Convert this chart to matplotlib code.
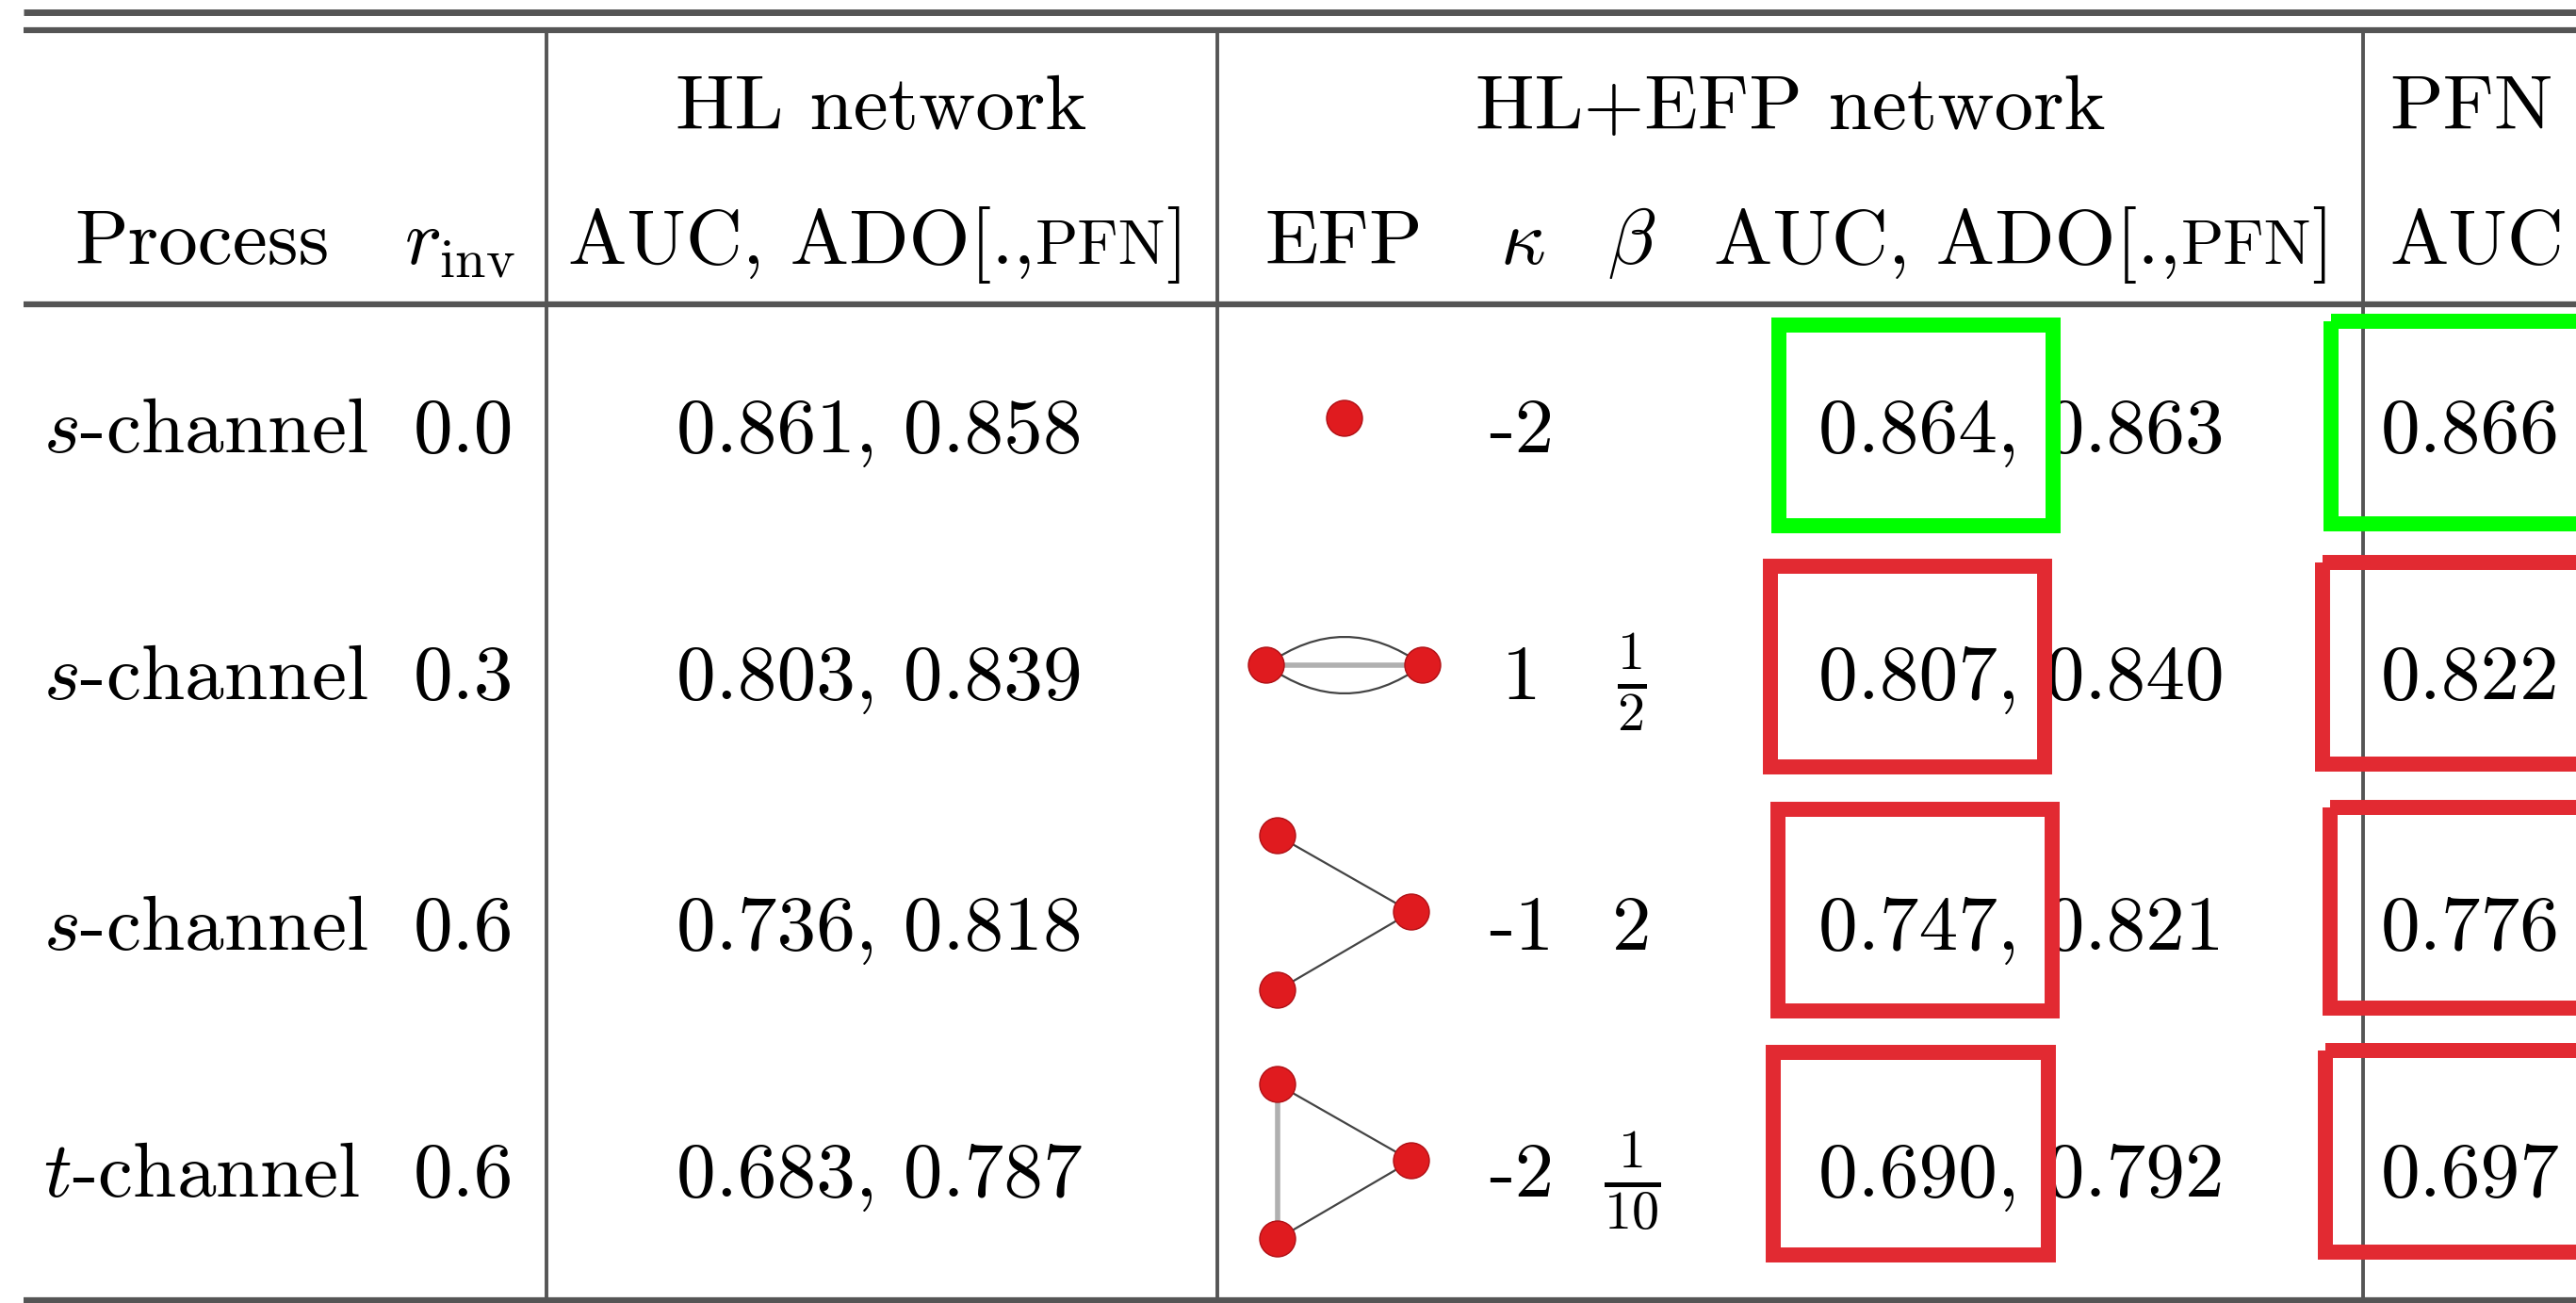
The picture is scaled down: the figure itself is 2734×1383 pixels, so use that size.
"""
Tabela de resultados: AUC e ADO para redes HL, HL+EFP e PFN,
com grafos EFP desenhados e caixas de destaque.
"""

import matplotlib.pyplot as plt
from matplotlib.patches import Rectangle, Circle, PathPatch
from matplotlib.path import Path

plt.rcParams["font.family"] = "cmr10"
plt.rcParams["mathtext.fontset"] = "cm"
plt.rcParams["axes.unicode_minus"] = False

# dados da tabela
processo = ["s", "s", "s", "t"]
r_inv = ["0.0", "0.3", "0.6", "0.6"]
hl_auc = [0.861, 0.803, 0.736, 0.683]
hl_ado = [0.858, 0.839, 0.818, 0.787]
kappa = ["-2", "1", "-1", "-2"]
beta = ["", r"$\frac{1}{2}$", "2", r"$\frac{1}{10}$"]
efp_auc = [0.864, 0.807, 0.747, 0.690]
efp_ado = [0.863, 0.840, 0.821, 0.792]
pfn_auc = [0.866, 0.822, 0.776, 0.697]
destaque = ["verde", "vermelho", "vermelho", "vermelho"]

# grafos EFP: nós (dx, dy) relativos ao centro e arestas (i, j, tipo)
efp_nos = [
    [(0, -8)],
    [(-83, 0), (83, 0)],
    [(-71, -81), (71, 0), (-71, 83)],
    [(-71, -81), (71, 0), (-71, 83)],
]
efp_arestas = [
    [],
    [(0, 1, "grossa"), (0, 1, "arco+"), (0, 1, "arco-")],
    [(0, 1, "fina"), (1, 2, "fina")],
    [(0, 2, "grossa"), (0, 1, "fina"), (1, 2, "fina")],
]

W, H = 2734, 1383
FS = 60
cores = {"verde": "#00ff00", "vermelho": "#e22a32"}
cinza = "#555555"

fig = plt.figure(figsize=(W / 100, H / 100), dpi=100)
ax = fig.add_axes([0, 0, 1, 1])
ax.set_xlim(0, W)
ax.set_ylim(H, 0)
ax.axis("off")
renderer = fig.canvas.get_renderer()

# linhas horizontais e verticais
for y, lw in [(13, 5), (32, 4.5), (323, 4.5), (1380, 4.5)]:
    ax.plot([25, W], [y, y], color=cinza, lw=lw, solid_capstyle="butt")
for x in [580, 1292, 2508]:
    ax.plot([x, x], [32, H], color=cinza, lw=2.8, solid_capstyle="butt")


def texto_pfn(xc, y):
    """'AUC, ADO[.,PFN]' com PFN em versalete, centrado em xc"""
    partes = [("AUC, ADO[.,", FS), ("PFN", FS * 0.8), ("]", FS)]
    objs = [ax.text(0, y, t, fontsize=f, va="baseline") for t, f in partes]
    larguras = [o.get_window_extent(renderer).width for o in objs]
    x = xc - sum(larguras) / 2
    for o, w in zip(objs, larguras):
        o.set_x(x)
        x += w


# cabeçalho
ax.text(935, 137, "HL network", fontsize=FS, ha="center", va="baseline")
ax.text(1900, 137, "HL+EFP network", fontsize=FS, ha="center", va="baseline")
ax.text(2536, 137, "PFN", fontsize=FS, ha="left", va="baseline")
ax.text(79, 280, "Process", fontsize=FS, ha="left", va="baseline")
ax.text(429, 280, r"$r_{\mathrm{inv}}$", fontsize=FS, ha="left", va="baseline")
texto_pfn(932, 280)
ax.text(1426, 280, "EFP", fontsize=FS, ha="center", va="baseline")
ax.text(1616, 280, r"$\kappa$", fontsize=FS, ha="center", va="baseline")
ax.text(1732, 280, r"$\beta$", fontsize=FS, ha="center", va="baseline")
texto_pfn(2148, 280)
ax.text(2536, 280, "AUC", fontsize=FS, ha="left", va="baseline")

# linhas de dados
base = [480, 742, 1008, 1270]
centro_efp = [452, 706, 968, 1232]
caixa_efp = [(1880, 337, 2187, 566), (1871, 593, 2178, 822),
             (1879, 851, 2186, 1081), (1874, 1109, 2182, 1340)]
caixa_pfn = [(2466, 333, 2800, 564), (2457, 589, 2800, 819),
             (2465, 849, 2800, 1078), (2460, 1107, 2800, 1337)]

for i in range(len(processo)):
    y = base[i]
    ax.text(46, y, f"${processo[i]}$-channel", fontsize=FS, va="baseline")
    ax.text(439, y, r_inv[i], fontsize=FS, va="baseline")
    ax.text(933, y, f"{hl_auc[i]:.3f}, {hl_ado[i]:.3f}", fontsize=FS,
            ha="center", va="baseline")
    ax.text(1615, y, kappa[i], fontsize=FS, ha="center", va="baseline")
    ax.text(1732, y, beta[i], fontsize=FS, ha="center", va="baseline")
    ax.text(1930, y, f"{efp_auc[i]:.3f}, {efp_ado[i]:.3f}", fontsize=FS,
            ha="left", va="baseline")
    ax.text(2527, y, f"{pfn_auc[i]:.3f}", fontsize=FS, ha="left",
            va="baseline")

    # grafo EFP
    cx, cy = 1427, centro_efp[i]
    nos = [(cx + dx, cy + dy) for dx, dy in efp_nos[i]]
    for a, b, tipo in efp_arestas[i]:
        (x0, y0), (x1, y1) = nos[a], nos[b]
        if tipo.startswith("arco"):
            s = -1 if tipo == "arco+" else 1
            mx, my = (x0 + x1) / 2, (y0 + y1) / 2 + s * 60
            p = Path([(x0, y0), (mx, my), (x1, y1)],
                     [Path.MOVETO, Path.CURVE3, Path.CURVE3])
            ax.add_patch(PathPatch(p, fc="none", ec="#444444", lw=1.6))
        elif tipo == "grossa":
            ax.plot([x0, x1], [y0, y1], color="#b0b0b0", lw=4)
        else:
            ax.plot([x0, x1], [y0, y1], color="#444444", lw=1.6)
    for x, yy in nos:
        ax.add_patch(Circle((x, yy), 19, fc="#e01b1f", ec="#b01015",
                            lw=1, zorder=5))

    # caixas de destaque
    for x0, y0, x1, y1 in (caixa_efp[i], caixa_pfn[i]):
        ax.add_patch(Rectangle((x0 + 8, y0 + 8), x1 - x0 - 16, y1 - y0 - 16,
                               fill=False, ec=cores[destaque[i]], lw=11.5,
                               joinstyle="miter", zorder=6))

fig.savefig("out.png", dpi=100, facecolor="white")
